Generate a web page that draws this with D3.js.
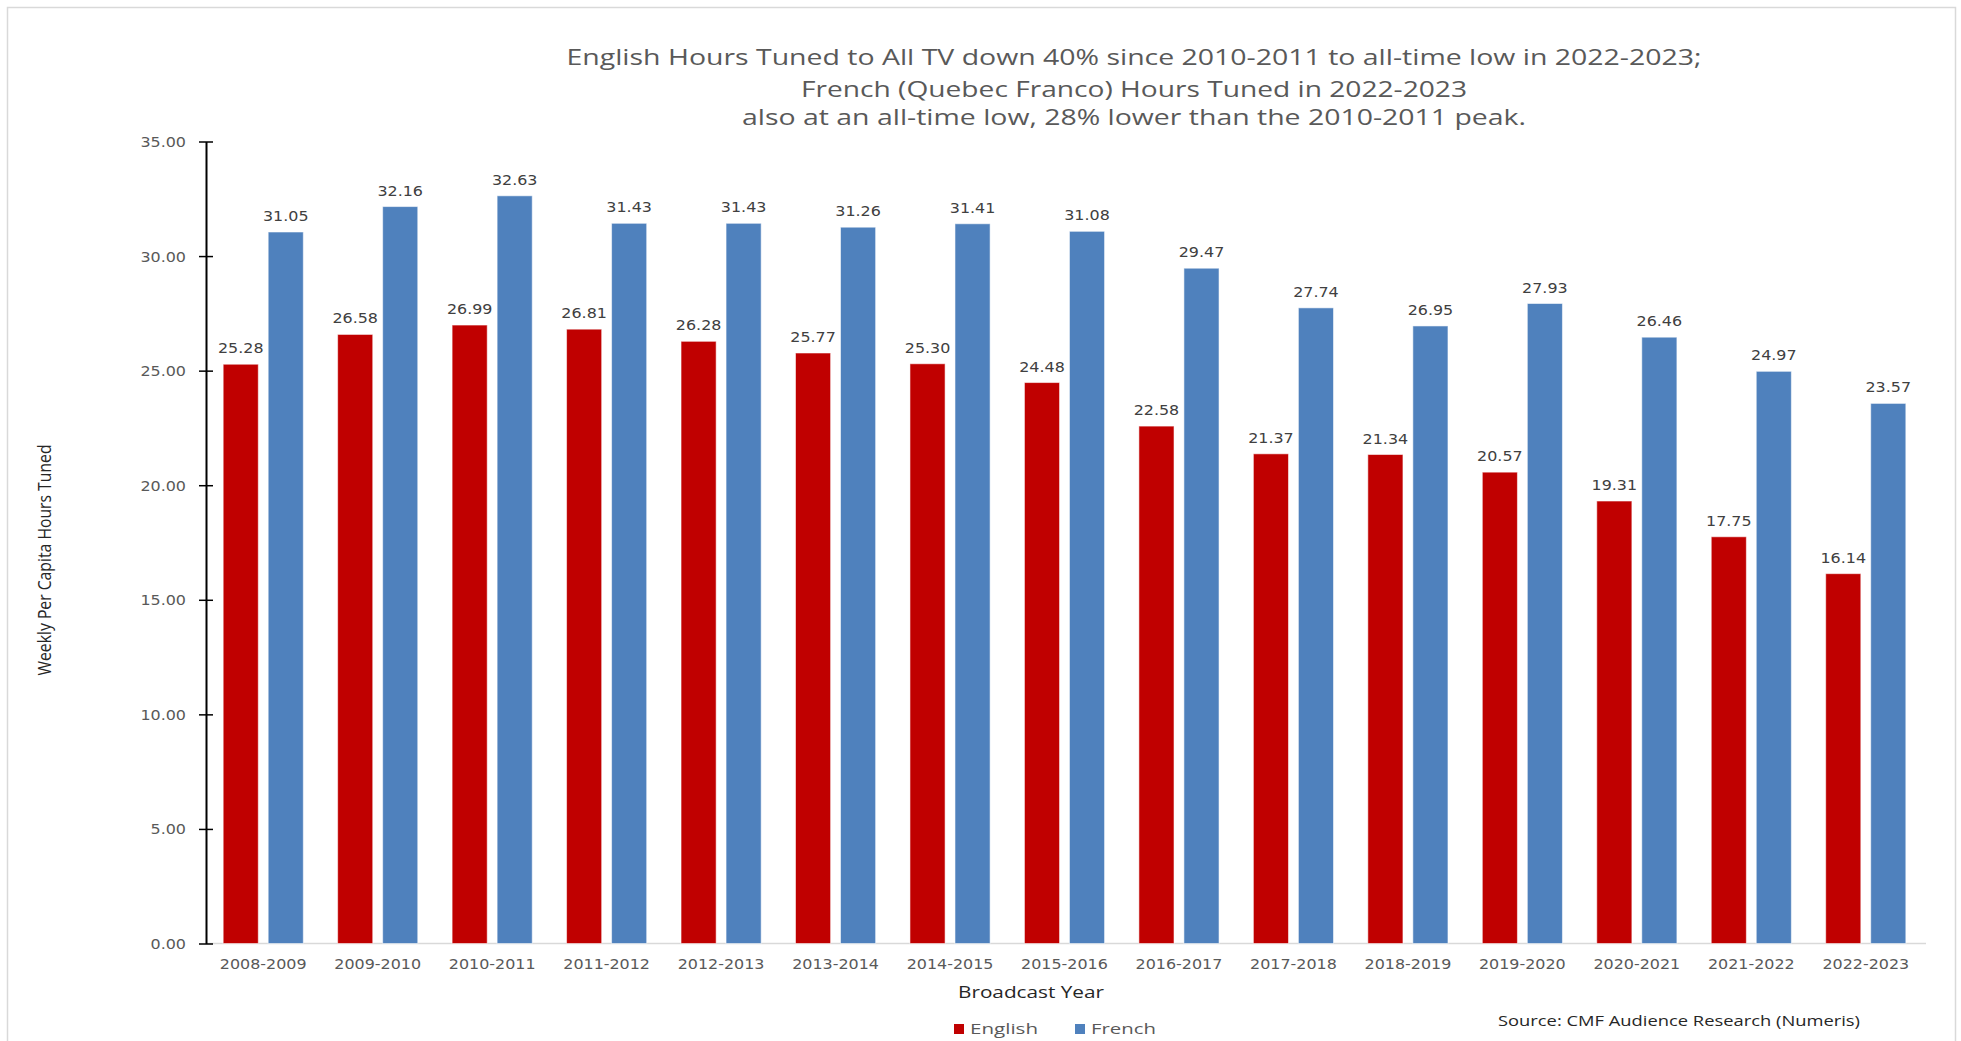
<!DOCTYPE html>
<html><head><meta charset="utf-8">
<script src="https://cdn.jsdelivr.net/npm/d3@7"></script>
<style>
html,body{margin:0;padding:0;background:#fff;}
svg{display:block;}
</style></head>
<body>
<svg id="chart" width="1961" height="1041"></svg>
<script>
const categories = ["2008-2009","2009-2010","2010-2011","2011-2012","2012-2013","2013-2014","2014-2015","2015-2016","2016-2017","2017-2018","2018-2019","2019-2020","2020-2021","2021-2022","2022-2023"];
const seriesNames = ["English","French"];
const english = [25.28,26.58,26.99,26.81,26.28,25.77,25.30,24.48,22.58,21.37,21.34,20.57,19.31,17.75,16.14];
const french  = [31.05,32.16,32.63,31.43,31.43,31.26,31.41,31.08,29.47,27.74,26.95,27.93,26.46,24.97,23.57];
const yTicks = [0,5,10,15,20,25,30,35];
const titleLines = ["English Hours Tuned to All TV down 40% since 2010-2011 to all-time low in 2022-2023;","French (Quebec Franco) Hours Tuned in 2022-2023","also at an all-time low, 28% lower than the 2010-2011 peak."];
const xTitle = "Broadcast Year";
const yTitle = "Weekly Per Capita  Hours Tuned";
const sourceText = "Source: CMF Audience Research (Numeris)";
const colors = {English:"#C00000", French:"#4F81BD"};

const SX = 1.18; // horizontal stretch of the reference picture
const svg = d3.select("#chart");

svg.append("rect").attr("x",7.5).attr("y",7.5).attr("width",1948).attr("height",1100)
  .attr("fill","none").attr("stroke","#d9d9d9").attr("stroke-width",1.5);

const margin = {left:206, right:1923, top:141.5, bottom:943.5};
const x0 = d3.scaleBand().domain(categories).range([margin.left, margin.right]).paddingInner(0.3).paddingOuter(0.15);
const x1 = d3.scaleBand().domain(seriesNames).range([0, x0.bandwidth()]).paddingInner(0.22);
const y = d3.scaleLinear().domain([0,35]).range([margin.bottom, margin.top]);

const data = categories.map((c,i)=>({cat:c, vals:[{s:"English",v:english[i]},{s:"French",v:french[i]}]}));

// baseline
svg.append("line").attr("x1",margin.left).attr("x2",margin.right+3).attr("y1",y(0)).attr("y2",y(0))
  .attr("stroke","#d9d9d9").attr("stroke-width",1.5);

// bars
const groups = svg.append("g").selectAll("g").data(data).join("g")
  .attr("transform", d=>`translate(${x0(d.cat)},0)`);
groups.selectAll("rect").data(d=>d.vals).join("rect")
  .attr("x", d=>x1(d.s)).attr("width", x1.bandwidth())
  .attr("y", d=>y(d.v)).attr("height", d=>y(0)-y(d.v))
  .attr("fill", d=>colors[d.s]).attr("stroke","#fff").attr("stroke-opacity",0.55).attr("stroke-width",1);
groups.selectAll("text").data(d=>d.vals).join("text")
  .attr("transform", d=>`translate(${x1(d.s)+x1.bandwidth()/2},${y(d.v)-11}) scale(${SX},1)`)
  .attr("text-anchor","middle").attr("font-family","DejaVu Sans, Verdana, sans-serif")
  .attr("font-size",13.5).attr("fill","#404040").text(d=>d.v.toFixed(2));

// y axis
const yAxis = svg.append("g").attr("transform",`translate(${margin.left},0)`)
  .call(d3.axisLeft(y).tickValues(yTicks).tickSize(0).tickFormat(d=>d3.format(".2f")(d)));
yAxis.select(".domain").attr("stroke","#000").attr("stroke-width",2);
yAxis.selectAll(".tick line").remove();
yAxis.selectAll(".tick").append("line").attr("x1",-7).attr("x2",7).attr("stroke","#000").attr("stroke-width",1.5);
yAxis.selectAll(".tick text").attr("x",null).attr("dy",null)
  .attr("transform",`translate(-20,5) scale(${SX},1)`)
  .attr("font-family","DejaVu Sans, Verdana, sans-serif").attr("font-size",13.5).attr("fill","#595959");

// x axis labels
const xAxis = svg.append("g").attr("transform",`translate(0,${y(0)})`)
  .call(d3.axisBottom(x0).tickSize(0));
xAxis.select(".domain").remove();
xAxis.selectAll(".tick text").attr("y",null).attr("dy",null)
  .attr("transform",`translate(0,25) scale(${SX},1)`)
  .attr("font-family","DejaVu Sans, Verdana, sans-serif").attr("font-size",13.5).attr("fill","#595959");

// title
const tY = [65, 96.5, 125], tW = [1135, 666, 784];
titleLines.forEach((t,i)=>{
  svg.append("text").attr("x",1134).attr("y",tY[i]).attr("text-anchor","middle")
    .attr("font-family","Open Sans, sans-serif").attr("font-size",21).attr("fill","#595959")
    .attr("textLength",tW[i]).attr("lengthAdjust","spacingAndGlyphs").text(t);
});

// axis titles
svg.append("text").attr("x",1031).attr("y",998).attr("text-anchor","middle")
  .attr("font-family","Open Sans, sans-serif").attr("font-size",16).attr("fill","#262626")
  .attr("textLength",146).attr("lengthAdjust","spacingAndGlyphs").text(xTitle);
svg.append("text").attr("transform","translate(51,560) rotate(-90) scale(1,1.15)")
  .attr("text-anchor","middle").attr("font-family","Open Sans, sans-serif").attr("font-size",15).attr("fill","#262626")
  .attr("textLength",231).attr("lengthAdjust","spacingAndGlyphs").text(yTitle);

// legend
const legendX = [954, 1075], legendW = [68, 65];
seriesNames.forEach((s,i)=>{
  svg.append("rect").attr("x",legendX[i]).attr("y",1024).attr("width",10).attr("height",10).attr("fill",colors[s]);
  svg.append("text").attr("x",legendX[i]+16).attr("y",1034)
    .attr("font-family","Open Sans, sans-serif").attr("font-size",15).attr("fill","#595959")
    .attr("textLength",legendW[i]).attr("lengthAdjust","spacingAndGlyphs").text(s);
});

// source
svg.append("text").attr("x",1498).attr("y",1026)
  .attr("font-family","Open Sans, sans-serif").attr("font-size",14).attr("fill","#262626")
  .attr("textLength",362).attr("lengthAdjust","spacingAndGlyphs").text(sourceText);
</script>
</body></html>
